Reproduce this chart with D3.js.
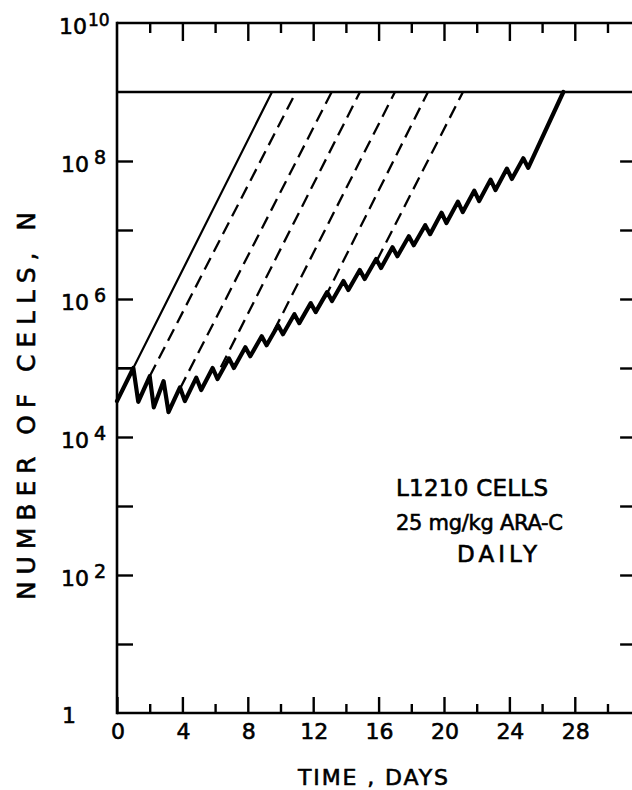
<!DOCTYPE html>
<html><head><meta charset="utf-8">
<script src="https://cdn.jsdelivr.net/npm/d3@7"></script>
<style>body{margin:0;background:#fff}svg{display:block}</style></head>
<body><svg id="c" width="632" height="790"></svg>
<script>
// ---------- data ----------
const dayTicks = [0, 4, 8, 12, 16, 20, 24, 28];
const minorDayTicks = [2, 6, 10, 14, 18, 22, 26, 30];
const decadeLabelExps = [10, 8, 6, 4, 2];
const decadeTickExps = [1, 2, 3, 4, 5, 6, 7, 8];
const lethalExp = 9;

// treated (daily ARA-C) curve: days and log10 N
const treatedDays = [0, 1.0, 1.3, 2.0, 2.25, 2.85, 3.15, 3.85, 4.15, 4.85, 5.15, 5.85, 6.15, 6.85, 7.15,
  7.85, 8.15, 8.85, 9.15, 9.85, 10.15, 10.85, 11.15, 11.85, 12.15, 12.85, 13.15, 13.85, 14.15,
  14.85, 15.15, 15.85, 16.15, 16.85, 17.15, 17.85, 18.15, 18.85, 19.15, 19.85, 20.15, 20.85,
  21.15, 21.85, 22.15, 22.85, 23.15, 23.85, 24.15, 24.85, 25.15, 27.3];
const treatedLogN = [4.52, 5.00, 4.51, 4.88, 4.43, 4.81, 4.36, 4.72, 4.52, 4.86, 4.68, 5.00, 4.84, 5.14, 5.00,
  5.30, 5.17, 5.46, 5.33, 5.62, 5.49, 5.78, 5.65, 5.94, 5.81, 6.10, 5.97, 6.26, 6.13,
  6.42, 6.29, 6.58, 6.45, 6.75, 6.62, 6.91, 6.78, 7.07, 6.94, 7.25, 7.10, 7.41,
  7.26, 7.57, 7.42, 7.73, 7.58, 7.89, 7.74, 8.04, 7.90, 9.00];

// untreated control
const controlDays = [0, 1.0, 9.48];
const controlLogN = [5.0, 5.0, 9.0];

// regrowth after stopping treatment (dashed)
const stopStartDays = [2.0, 3.85, 6.35, 9.6, 12.7, 15.9];
const stopStartLogN = [4.88, 4.70, 5.01, 5.54, 6.01, 6.56];
const stopEndDays = [10.95, 13.13, 14.86, 17.0, 19.02, 21.16];
const stopEndLogN = [9, 9, 9, 9, 9, 9];

const noteLines = ["L1210 CELLS", "25 mg/kg ARA-C", "DAILY"];

// ---------- drawing ----------
const svg = d3.select("#c");
svg.append("rect").attr("width", 632).attr("height", 790).attr("fill", "#fff");
const FONT = "DejaVu Sans, Liberation Sans, sans-serif";
const heavy = s => s.attr("stroke", "#000").attr("stroke-width", 0.6).attr("fill", "#000");

const x = d3.scaleLinear().domain([0, 31.75]).range([117, 636.1]);
const y = d3.scaleLog().domain([1, 1e10]).range([713, 23]);
const P = v => Math.pow(10, v);

const line = d3.line().x(d => x(d[0])).y(d => y(P(d[1])));

// frame
const frame = svg.append("g").attr("stroke", "#000").attr("stroke-width", 2.6).attr("fill", "none");
frame.append("line").attr("x1", x(0)).attr("x2", x(0)).attr("y1", y(1) + 1.3).attr("y2", y(1e10) - 1.3);
frame.append("line").attr("x1", x(0)).attr("x2", x(31.75)).attr("y1", y(1)).attr("y2", y(1));
frame.append("line").attr("x1", x(0)).attr("x2", x(31.75)).attr("y1", y(1e10)).attr("y2", y(1e10));
frame.append("line").attr("x1", x(31.75)).attr("x2", x(31.75)).attr("y1", y(1)).attr("y2", y(1e10));

function styleAxis(g) {
  g.select(".domain").remove();
  g.selectAll(".tick line").attr("stroke", "#000").attr("stroke-width", 2.4);
  g.selectAll(".tick text").remove();
}
// bottom ticks (inward)
svg.append("g").attr("transform", `translate(0,${y(1)})`)
  .call(d3.axisBottom(x).tickValues(dayTicks).tickSize(-16)).call(styleAxis);
svg.append("g").attr("transform", `translate(0,${y(1)})`)
  .call(d3.axisBottom(x).tickValues(minorDayTicks).tickSize(-9)).call(styleAxis);
// top ticks (inward)
svg.append("g").attr("transform", `translate(0,${y(1e10)})`)
  .call(d3.axisTop(x).tickValues(dayTicks.slice(1)).tickSize(-18)).call(styleAxis);
svg.append("g").attr("transform", `translate(0,${y(1e10)})`)
  .call(d3.axisTop(x).tickValues(minorDayTicks).tickSize(-10)).call(styleAxis);
// left / right ticks
svg.append("g").attr("transform", `translate(${x(0)},0)`)
  .call(d3.axisLeft(y).tickValues(decadeTickExps.map(P)).tickSize(-16)).call(styleAxis);
svg.append("g").attr("transform", `translate(${x(31.75)},0)`)
  .call(d3.axisRight(y).tickValues(decadeTickExps.map(P)).tickSize(-16)).call(styleAxis);

// x tick labels
svg.append("g").selectAll("text").data(dayTicks).join("text")
  .attr("x", d => x(d) + 1).attr("y", y(1) + 26)
  .attr("text-anchor", "middle").attr("font-family", FONT).attr("font-size", 22)
  .text(d => d).call(heavy);

// y tick labels
const yl = svg.append("g").attr("font-family", FONT);
decadeLabelExps.forEach(e => {
  const t = yl.append("text").attr("x", e === 10 ? 59 : 61).attr("y", y(P(e)) + 11).attr("font-size", 22);
  t.append("tspan").text("10");
  t.append("tspan").attr("dx", e === 10 ? 1 : 5).attr("dy", -8).attr("font-size", e === 10 ? 17 : 19).text(String(e));
  t.call(heavy);
});
yl.append("text").attr("x", 69).attr("y", y(1) + 10).attr("font-size", 22).attr("text-anchor", "middle").text("1").call(heavy);

// axis titles
svg.append("text").attr("x", 373).attr("y", 785).attr("text-anchor", "middle")
  .attr("font-family", FONT).attr("font-size", 22).attr("textLength", 150).attr("lengthAdjust", "spacing")
  .text("TIME , DAYS").call(heavy);
svg.append("text").attr("transform", "translate(35,406) rotate(-90)").attr("text-anchor", "middle")
  .attr("font-family", FONT).attr("font-size", 25).attr("textLength", 388).attr("lengthAdjust", "spacing")
  .text("NUMBER OF CELLS, N").call(heavy);

// lethal threshold line
svg.append("line").attr("x1", x(0)).attr("x2", x(31.75)).attr("y1", y(P(lethalExp))).attr("y2", y(P(lethalExp)))
  .attr("stroke", "#000").attr("stroke-width", 2.4);

// control curve
svg.append("path").datum(controlDays.map((d, i) => [d, controlLogN[i]]))
  .attr("d", line).attr("fill", "none").attr("stroke", "#000").attr("stroke-width", 2.2);

// dashed regrowth lines
svg.append("g").selectAll("path").data(stopStartDays.map((d, i) => [[d, stopStartLogN[i]], [stopEndDays[i], stopEndLogN[i]]]))
  .join("path").attr("d", line).attr("fill", "none").attr("stroke", "#000")
  .attr("stroke-width", 2.3).attr("stroke-dasharray", "13,7");

// treated curve
svg.append("path").datum(treatedDays.map((d, i) => [d, treatedLogN[i]]))
  .attr("d", line).attr("fill", "none").attr("stroke", "#000").attr("stroke-width", 4.2)
  .attr("stroke-linejoin", "round").attr("stroke-linecap", "round");

// annotation
const notePos = [[396, 496, 152, 23], [396, 530, 167, 21], [457, 562, 80, 23]];
svg.append("g").selectAll("text").data(noteLines).join("text")
  .attr("x", (d, i) => notePos[i][0]).attr("y", (d, i) => notePos[i][1])
  .attr("font-family", FONT).attr("font-size", (d, i) => notePos[i][3])
  .attr("textLength", (d, i) => notePos[i][2]).attr("lengthAdjust", "spacing")
  .text(d => d).call(heavy);
</script></body></html>
